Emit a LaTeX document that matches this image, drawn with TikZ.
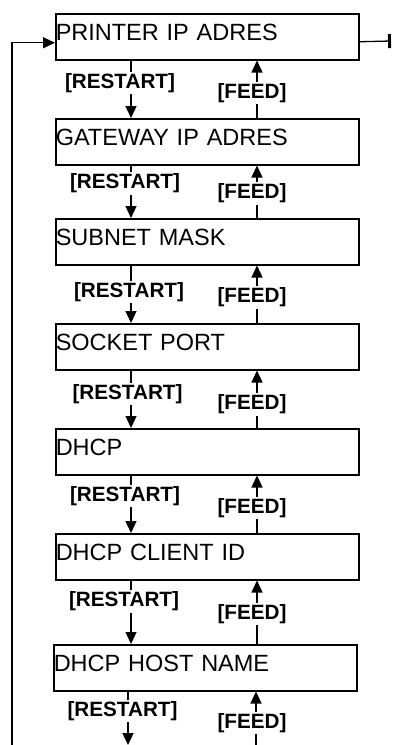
\documentclass[tikz,border=0pt]{standalone}
\usepackage{fontspec}
\setmainfont{Liberation Sans}
\usetikzlibrary{arrows.meta,calc}
\begin{document}
\begin{tikzpicture}[x=1pt,y=-1pt,
  box/.style={draw, line width=1.5pt, minimum height=46pt, text width=303pt,
    inner xsep=0pt, inner ysep=0pt, align=left, text height=16pt, text depth=8pt,
    font=\fontsize{23.5}{28}\selectfont, anchor=north west},
  lab/.style={fill=white, inner sep=1.5pt, font=\bfseries\fontsize{20.7}{24}\selectfont},
  arr/.style={line width=1.3pt, -{Triangle[length=12pt,width=11pt]}},
  ln/.style={line width=1.3pt}]
\useasboundingbox (0,0) rectangle (393,745);
\node[box] (b1) at (55,13) {PRINTER IP ADRES};
\node[box] (b2) at (55,118) {GATEWAY IP ADRES};
\node[box] (b3) at (55,218) {SUBNET MASK};
\node[box] (b4) at (55,323) {SOCKET PORT};
\node[box] (b5) at (55,428) {DHCP};
\node[box] (b6) at (55,533) {DHCP CLIENT ID};
\node[box] (b7) at (53,644) {DHCP HOST NAME};
\foreach \a/\b in {b1/b2,b2/b3,b3/b4,b4/b5,b5/b6,b6/b7}{
  \draw[arr] ([xshift=76pt]\a.south west) -- ([xshift=76pt]\a.south west |- \b.north);
  \draw[arr] ([xshift=202pt]\a.south west |- \b.north) -- ([xshift=202pt]\a.south west);
}
\coordinate (r8) at (128,745);
\coordinate (f8) at (256,745);
\draw[arr] ([xshift=75pt]b7.south west) -- (r8);
\draw[arr] (f8) -- ([xshift=203pt]b7.south west);
\coordinate (lb) at (12,745);
\draw[arr] (lb) |- ([yshift=-6pt]b1.west);
\coordinate (ex) at (391,41);
\draw[ln,-{Bar[width=14pt,line width=3pt]}] ([yshift=-5pt]b1.east) -- (ex);
\node[lab] (r1) at (120,83) {[RESTART]};
\node[lab] (f1) at (252,93) {[FEED]};
\node[lab] (r2) at (125,183.5) {[RESTART]};
\node[lab] (f2) at (252,193.5) {[FEED]};
\node[lab] (r3) at (129,292) {[RESTART]};
\node[lab] (f3) at (252,297.5) {[FEED]};
\node[lab] (r4) at (127.5,394) {[RESTART]};
\node[lab] (f4) at (252,404.5) {[FEED]};
\node[lab] (r5) at (125,496) {[RESTART]};
\node[lab] (f5) at (252,508) {[FEED]};
\node[lab] (r6) at (124,601.5) {[RESTART]};
\node[lab] (f6) at (252,614) {[FEED]};
\node[lab] (r7) at (122.5,711) {[RESTART]};
\node[lab] (f7) at (252,723) {[FEED]};
\end{tikzpicture}
\end{document}
